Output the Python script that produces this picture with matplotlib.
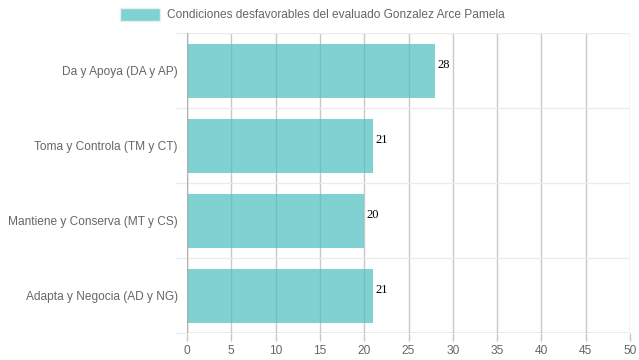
import matplotlib

matplotlib.use("Agg")
import matplotlib.pyplot as plt
import numpy as np

categories = [
    "Da y Apoya (DA y AP)",
    "Toma y Controla (TM y CT)",
    "Mantiene y Conserva (MT y CS)",
    "Adapta y Negocia (AD y NG)",
]
values = [28, 21, 20, 21]
x_ticks = [0, 5, 10, 15, 20, 25, 30, 35, 40, 45, 50]
legend_label = "Condiciones desfavorables del evaluado Gonzalez Arce Pamela"

BAR_COLOR = (75 / 255, 192 / 255, 192 / 255, 0.7)
TEXT_COLOR = "#666666"
FS = 8.6

plt.rcParams["font.family"] = ["Liberation Sans", "DejaVu Sans"]

fig = plt.figure(figsize=(6.39, 3.60), dpi=100)
ax = fig.add_axes([187 / 639, 1 - 333 / 360, 443 / 639, 300 / 360])

n = len(categories)
ypos = np.arange(n)
ax.set_ylim(n - 0.5, -0.5)
ax.set_xlim(0, 50)

# grid: vertical darker, horizontal light
for t in x_ticks:
    ax.axvline(t, color="#c8c8c8", lw=1, zorder=1)
for b in np.arange(-0.5, n, 1.0):
    ax.axhline(b, color="#ebebeb", lw=1, zorder=1)
ax.axvline(0, color="#b0b0b0", lw=1, zorder=3)
ax.axhline(n - 0.5, color="#b0b0b0", lw=1, zorder=3)

ax.barh(ypos, values, height=0.72, color=BAR_COLOR, zorder=2)

for y, v in zip(ypos, values):
    ax.text(v + 0.25, y - 0.07, str(v), family=["Liberation Serif", "DejaVu Serif"],
            fontsize=9, color="black", ha="left", va="center", zorder=4)

ax.set_xticks(x_ticks)
ax.set_xticklabels([str(t) for t in x_ticks])
ax.set_yticks(np.arange(-0.5, n, 1.0), minor=True)
ax.set_yticks(ypos)
ax.set_yticklabels(categories)
ax.tick_params(axis="y", which="major", length=0, pad=6.5, labelsize=FS,
               labelcolor=TEXT_COLOR)
ax.tick_params(axis="y", which="minor", length=8, color="#ebebeb", width=1)
ax.tick_params(axis="x", length=6, color="#c8c8c8", width=1, pad=3,
               labelsize=FS, labelcolor=TEXT_COLOR)
for s in ax.spines.values():
    s.set_visible(False)

# legend, chart.js style
lx0, ly0 = 120 / 639, 1 - 21 / 360
fig.patches.append(plt.Rectangle((lx0, ly0), 40 / 639, 13 / 360,
                                 transform=fig.transFigure,
                                 facecolor=BAR_COLOR, edgecolor=(0.9, 0.95, 0.95),
                                 lw=1))
fig.text(167 / 639, 1 - 14.5 / 360, legend_label, fontsize=FS,
         color=TEXT_COLOR, ha="left", va="center")

fig.savefig("out.png", dpi=100, facecolor="white")
